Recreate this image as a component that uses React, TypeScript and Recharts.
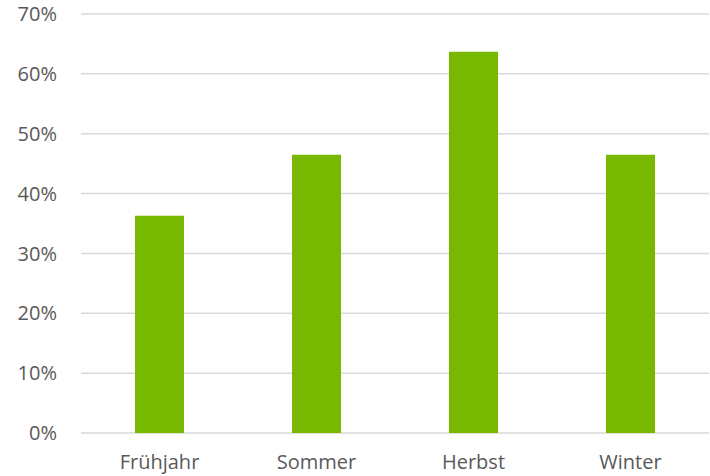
import React from 'react';
import { BarChart, Bar, XAxis, YAxis, CartesianGrid } from 'recharts';

const seasons = ['Frühjahr', 'Sommer', 'Herbst', 'Winter'];
const shares = [0.363, 0.465, 0.637, 0.465];
const yTicks = [0, 0.1, 0.2, 0.3, 0.4, 0.5, 0.6, 0.7];

const data = seasons.map((name, i) => ({ name, value: shares[i] }));

const tickStyle = { fill: '#595959', fontSize: 20, fontFamily: '"Open Sans", sans-serif' };

export default function App() {
  return (
    <div style={{ position: 'absolute', left: 0, top: 0, width: 710, height: 476, background: '#fff' }}>
      <BarChart
        width={710}
        height={476}
        data={data}
        margin={{ top: 14, right: 1, bottom: 13, left: 0 }}
        barSize={49}
      >
        <CartesianGrid vertical={false} stroke="#d9d9d9" strokeWidth={1.5} />
        <XAxis
          dataKey="name"
          height={30}
          axisLine={false}
          tickLine={false}
          tickSize={0}
          tickMargin={22}
          tick={tickStyle}
          interval={0}
        />
        <YAxis
          width={81}
          domain={[0, 0.7]}
          ticks={yTicks}
          axisLine={false}
          tickLine={false}
          tickSize={0}
          tickMargin={24}
          tick={tickStyle}
          tickFormatter={(v: number) => `${Math.round(v * 100)}%`}
        />
        <Bar dataKey="value" fill="#78b800" isAnimationActive={false} />
      </BarChart>
    </div>
  );
}
